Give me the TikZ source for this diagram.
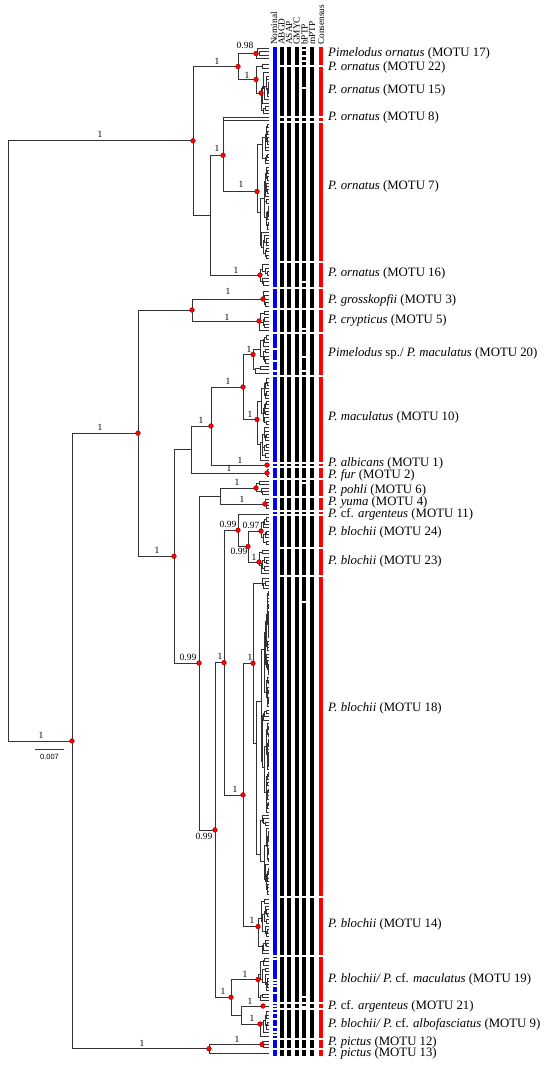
\documentclass[tikz,border=0pt]{standalone}
\usepackage{fontspec}
\setmainfont{Liberation Serif}
\newfontfamily\sansf{Liberation Sans}
\pgfmathsetseed{4711}
\def\tipx{269}
\def\tsp{3.3}
\newcommand\subtr[4]{%
  \pgfmathsetmacro\stA{#3+#4*\tsp/2}%
  \ifnum#4<2
    \draw[tree] (#1,\stA) -- (\tipx,\stA);
  \else
    \draw[tree] (#1,\stA) -- (#2,\stA);
    \pgfmathtruncatemacro\stK{min(#4-1,1+floor((#4-1)*rnd))}%
    \pgfmathsetmacro\stXa{#2+(\tipx-#2)*(0.1+0.35*rnd)}%
    \pgfmathsetmacro\stXb{#2+(\tipx-#2)*(0.1+0.35*rnd)}%
    \pgfmathsetmacro\stYm{#3+\stK*\tsp}%
    \pgfmathtruncatemacro\stKb{#4-\stK}%
    \draw[tree] (#2,{#3+\stK*\tsp/2}) -- (#2,{\stYm+\stKb*\tsp/2});
    \edef\stNext{\noexpand\subtr{#2}{\stXa}{#3}{\stK}\noexpand\subtr{#2}{\stXb}{\stYm}{\stKb}}%
    \stNext
  \fi}
\newcommand\motu[3]{%
  \pgfmathtruncatemacro\mN{max(1,round((#3-#2)/3.3))}%
  \pgfmathsetmacro\tsp{(#3-#2)/\mN}%
  \subtr{#1}{#1}{#2}{\mN}}
\def\bartop{47}
\def\barbot{1056}
\def\common{66,117,122,262,288,309,333,376,463,467,479,497,511,515,548,576,897,956,1003,1009,1039,1049}
\newcommand\colbar[4]{%
  \fill[#3] ({#1-#2/2},\bartop) rectangle ({#1+#2/2},\barbot);
  \edef\cbl{#4}%
  \foreach \g in \cbl {\fill[white] ({#1-#2/2-0.6},{\g-0.8}) rectangle ({#1+#2/2+0.6},{\g+0.8});}}
\begin{document}
\begin{tikzpicture}[x=1pt,y=-1pt,
  tree/.style={line width=0.8pt,draw=black!80,line cap=rect},
  rdot/.style={circle,fill=red,draw=red!50!black,line width=0.3pt,inner sep=0pt,minimum size=4.8pt},
  blab/.style={font=\fontsize{9.5}{10}\selectfont,inner sep=0pt,anchor=center},
  tlab/.style={font=\fontsize{12.8}{14}\selectfont,anchor=west,inner sep=0pt},
  hlab/.style={font=\fontsize{9.3}{10}\selectfont,rotate=90,anchor=west,inner sep=0pt}]
\useasboundingbox (0,0) rectangle (550,1066);
\fill[white] (0,0) rectangle (550,1066);
% ---------- bars
\colbar{275}{4.6}{blue}{288,309,333,349,361,371,376,463,467,479,497,511,515,956,959,980,983,986,993,1003,1006,1009,1013,1019,1027,1032,1035,1039,1049}
\colbar{282}{4.2}{black}{\common}
\colbar{289.3}{4.2}{black}{\common}
\colbar{296.7}{4.2}{black}{\common}
\colbar{304.2}{4.2}{black}{\common,50,56,61,88,282,329,357,371,483,602,997,1007}
\colbar{311.8}{4.2}{black}{\common}
\colbar{321}{4.6}{red}{\common}
% ---------- headers
\node[hlab] (hN) at (274,45) {Nominal};
\node[hlab] (hA) at (281.5,45) {ABGD};
\node[hlab] (hS) at (289,45) {ASAP};
\node[hlab] (hG) at (296.7,45) {GMYC};
\node[hlab] (hB) at (304.5,45) {bPTP};
\node[hlab] (hM) at (312,45) {mPTP};
\node[hlab] (hC) at (321,45) {Consensus};
% ---------- MOTU clades
\coordinate (M17) at (256,53.5);  \motu{256}{47}{60}
\coordinate (M22) at (262,66);    \motu{262}{62}{70}
\coordinate (M15) at (261,93);    \motu{261}{71}{115}
\coordinate (M8) at (223,119);    \motu{223}{116.5}{121.5}
\coordinate (M7) at (257,191.5);  \motu{257}{123}{260}
\coordinate (M16) at (260,275);   \motu{260}{263}{287}
\coordinate (M3) at (263,299);    \motu{263}{290}{308}
\coordinate (M5) at (259,321);    \motu{259}{310}{332}
\coordinate (M20) at (253,354.5); \motu{253}{334}{375}
\coordinate (M10) at (257,419.5); \motu{257}{377}{462}
\coordinate (M1) at (211,465);    \motu{211}{463.5}{466.5}
\coordinate (M2) at (267,473);    \motu{267}{468}{478}
\coordinate (M6) at (256,488);    \motu{256}{480}{496}
\coordinate (M4) at (265,504);    \motu{265}{498}{510}
\coordinate (M11) at (238,514);   \motu{238}{512.5}{515.5}
\coordinate (M24) at (261,531);   \motu{261}{516}{546}
\coordinate (M23) at (259,562);   \motu{259}{549}{575}
\coordinate (Qa) at (262,583.5);  \motu{262}{577}{590}
\coordinate (Qb) at (256,743);    \motu{256}{590}{896}
\coordinate (M14) at (258,926.5); \motu{258}{898}{955}
\coordinate (M19) at (258,979.5); \motu{258}{957}{1002}
\coordinate (M21) at (263,1006);  \motu{263}{1004}{1008}
\coordinate (M9) at (260,1024);   \motu{260}{1010}{1038}
\coordinate (M12) at (262,1044.5);\motu{262}{1040}{1049}
\coordinate (M13) at (209,1053);  \motu{209}{1051.5}{1054.5}
% ---------- backbone nodes
\coordinate (D) at (256,79.5);
\coordinate (B) at (238,66.5);
\coordinate (Y) at (223,155.25);
\coordinate (X) at (210,215.1);
\coordinate (A) at (193,140.8);
\coordinate (G) at (192,310);
\coordinate (W) at (243,387);
\coordinate (V) at (211,426);
\coordinate (U) at (191,449.5);
\coordinate (J) at (220,496);
\coordinate (M) at (248,546.5);
\coordinate (L) at (238,530.25);
\coordinate (Q) at (253,663.25);
\coordinate (O) at (243,794.9);
\coordinate (P) at (224,662.6);
\coordinate (S) at (241,1015);
\coordinate (N) at (231,997.25);
\coordinate (K) at (215,829.9);
\coordinate (I) at (199,663);
\coordinate (H) at (174,556.25);
\coordinate (F) at (138,433.1);
\coordinate (T) at (209,1048.75);
\coordinate (R) at (72,740.9);
\coordinate (root) at (8,440.85);
\foreach \p/\c in {root/A,root/R,A/B,A/X,B/M17,B/D,D/M22,D/M15,X/Y,X/M16,Y/M8,Y/M7,
  R/F,R/T,F/G,F/H,G/M3,G/M5,H/U,H/I,U/V,U/M2,V/W,V/M1,W/M20,W/M10,I/J,I/K,J/M6,J/M4,
  K/P,K/N,P/L,P/O,L/M11,L/M,M/M24,M/M23,O/Q,O/M14,Q/Qa,Q/Qb,N/M19,N/S,S/M21,S/M9,T/M12,T/M13}
  {\draw[tree] (\p) |- (\c);}
% ---------- red dots
\foreach \n in {A,B,M17,D,M15,Y,M7,M16,R,F,G,M3,M5,W,M20,M10,V,M2,H,M6,M4,I,L,M24,M,M23,P,Q,O,K,M14,N,M19,M21,M9,T,M12}
  {\node[rdot] (d\n) at (\n) {};}
\node[rdot] (dM1) at (267,465) {};
% ---------- branch labels
\node[blab] (l1) at (100,134) {1};
\node[blab] (l2) at (41,735) {1};
\node[blab] (l3) at (245,45) {0.98};
\node[blab] (l4) at (217,61) {1};
\node[blab] (l5) at (247,75) {1};
\node[blab] (l6) at (217,148) {1};
\node[blab] (l7) at (241,184) {1};
\node[blab] (l8) at (236,270) {1};
\node[blab] (l9) at (228,291) {1};
\node[blab] (l10) at (227,317) {1};
\node[blab] (l11) at (100,427) {1};
\node[blab] (l12) at (249,349) {1};
\node[blab] (l13) at (250,414) {1};
\node[blab] (l14) at (228,381) {1};
\node[blab] (l15) at (201,420) {1};
\node[blab] (l16) at (240,460) {1};
\node[blab] (l17) at (229,468) {1};
\node[blab] (l18) at (157,550.5) {1};
\node[blab] (l19) at (237,482) {1};
\node[blab] (l20) at (242,499) {1};
\node[blab] (l21) at (228,524) {0.99};
\node[blab] (l22) at (251,525) {0.97};
\node[blab] (l23) at (239,551) {0.99};
\node[blab] (l24) at (254,557) {1};
\node[blab] (l25) at (188,657) {0.99};
\node[blab] (l26) at (220,656) {1};
\node[blab] (l27) at (250,657) {1};
\node[blab] (l36) at (235,789) {1};
\node[blab] (l28) at (204,836) {0.99};
\node[blab] (l29) at (252,920) {1};
\node[blab] (l30) at (223,991) {1};
\node[blab] (l31) at (245,974) {1};
\node[blab] (l32) at (250,1001) {1};
\node[blab] (l33) at (252,1018) {1};
\node[blab] (l34) at (142,1043) {1};
\node[blab] (l35) at (237,1039) {1};
% ---------- scale bar
\coordinate (sb1) at (35,749);
\coordinate (sb2) at (64,749);
\draw[line width=0.9pt,black!80] (sb1) -- (sb2);
\node[font=\sansf\fontsize{7.5}{8}\selectfont,inner sep=0pt] (sbl) at (49.5,756.5) {0.007};
% ---------- taxon labels
\node[tlab] (t17) at (328,53) {\textit{Pimelodus ornatus} (MOTU 17)};
\node[tlab] (t22) at (328,67) {\textit{P. ornatus} (MOTU 22)};
\node[tlab] (t15) at (328,90) {\textit{P. ornatus} (MOTU 15)};
\node[tlab] (t8) at (328,117) {\textit{P. ornatus} (MOTU 8)};
\node[tlab] (t7) at (328,186) {\textit{P. ornatus} (MOTU 7)};
\node[tlab] (t16) at (328,273) {\textit{P. ornatus} (MOTU 16)};
\node[tlab] (t3) at (328,300) {\textit{P. grosskopfii} (MOTU 3)};
\node[tlab] (t5) at (328,320) {\textit{P. crypticus} (MOTU 5)};
\node[tlab] (t20) at (328,353) {\textit{Pimelodus} sp./ \textit{P. maculatus} (MOTU 20)};
\node[tlab] (t10) at (328,417) {\textit{P. maculatus} (MOTU 10)};
\node[tlab] (t1) at (328,463.5) {\textit{P. albicans} (MOTU 1)};
\node[tlab] (t2) at (328,475) {\textit{P. fur} (MOTU 2)};
\node[tlab] (t6) at (328,490) {\textit{P. pohli} (MOTU 6)};
\node[tlab] (t4) at (328,502) {\textit{P. yuma} (MOTU 4)};
\node[tlab] (t11) at (328,514) {\textit{P.} cf. \textit{argenteus} (MOTU 11)};
\node[tlab] (t24) at (328,532) {\textit{P. blochii} (MOTU 24)};
\node[tlab] (t23) at (328,561) {\textit{P. blochii} (MOTU 23)};
\node[tlab] (t18) at (328,708) {\textit{P. blochii} (MOTU 18)};
\node[tlab] (t14) at (328,924) {\textit{P. blochii} (MOTU 14)};
\node[tlab] (t19) at (328,979) {\textit{P. blochii/ P.} cf. \textit{maculatus} (MOTU 19)};
\node[tlab] (t21) at (328,1006) {\textit{P.} cf. \textit{argenteus} (MOTU 21)};
\node[tlab] (t9) at (328,1024) {\textit{P. blochii/ P.} cf. \textit{albofasciatus} (MOTU 9)};
\node[tlab] (t12) at (328,1042) {\textit{P. pictus} (MOTU 12)};
\node[tlab] (t13) at (328,1053) {\textit{P. pictus} (MOTU 13)};
\end{tikzpicture}
\end{document}
